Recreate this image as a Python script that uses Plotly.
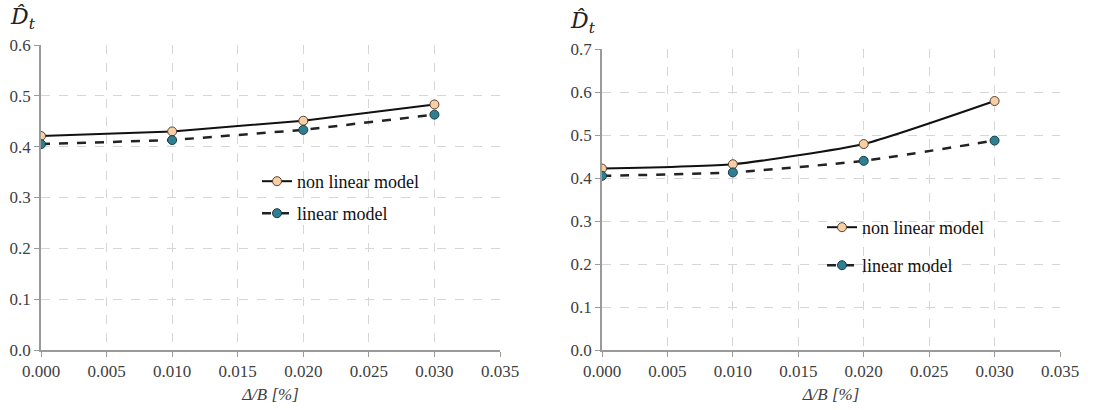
import plotly.graph_objects as go

x_vals = [0.000, 0.010, 0.020, 0.030]
left_nonlinear = [0.421, 0.430, 0.451, 0.483]
left_linear = [0.405, 0.413, 0.433, 0.463]
right_nonlinear = [0.422, 0.432, 0.479, 0.579]
right_linear = [0.405, 0.413, 0.440, 0.487]

x_ticks = [0.000, 0.005, 0.010, 0.015, 0.020, 0.025, 0.030, 0.035]
x_ticklabels = ["0.000", "0.005", "0.010", "0.015", "0.020", "0.025", "0.030", "0.035"]
series_names = ["non linear model", "linear model"]

W, H = 1114, 410
FONT = "Liberation Serif"
PEACH = "#F6CFA6"
TEAL = "#2F7F93"

fig = go.Figure()

def add_panel(xa, ya, nonlin, lin, legs, shape):
    fig.add_trace(go.Scatter(
        x=x_vals, y=nonlin, name=series_names[0], mode="lines+markers",
        line=dict(color="#111111", width=2, shape=shape, smoothing=0.5),
        marker=dict(size=9, color=PEACH, line=dict(color="#5a4030", width=1)),
        xaxis=xa, yaxis=ya, legend=legs[0], showlegend=True))
    fig.add_trace(go.Scatter(
        x=x_vals, y=lin, name=series_names[1], mode="lines+markers",
        line=dict(color="#222222", width=2.5, dash="dash", shape=shape, smoothing=0.5),
        marker=dict(size=9, color=TEAL, line=dict(color="#1e3a44", width=1)),
        xaxis=xa, yaxis=ya, legend=legs[1], showlegend=True))

add_panel("x", "y", left_nonlinear, left_linear, ["legend", "legend2"], "linear")
add_panel("x2", "y2", right_nonlinear, right_linear, ["legend3", "legend4"], "spline")

def xaxis(domain, anchor):
    return dict(domain=domain, anchor=anchor, range=[0, 0.035], automargin=False,
                tickvals=x_ticks, ticktext=x_ticklabels,
                showgrid=True, gridcolor="#d6d6d6", griddash="dash", gridwidth=1,
                showline=True, linecolor="#9a9a9a", linewidth=1.5,
                ticks="outside", ticklen=5, tickcolor="#9a9a9a",
                zeroline=False)

def yaxis(domain, anchor, rng, dt):
    return dict(domain=domain, anchor=anchor, range=rng, dtick=dt, tickformat=".1f", automargin=False,
                showgrid=True, gridcolor="#d6d6d6", griddash="dash", gridwidth=1,
                showline=True, linecolor="#9a9a9a", linewidth=1.5,
                ticks="outside", ticklen=5, tickcolor="#9a9a9a",
                zeroline=False)

def leg(xpx, ytop):
    return dict(x=xpx / W, y=1 - ytop / H, xanchor="left", yanchor="top", visible=True,
                bgcolor="rgba(255,255,255,0)", font=dict(family=FONT, size=18, color="#111"),
                itemwidth=30)

fig.update_layout(
    width=W, height=H, margin=dict(l=0, r=0, t=0, b=0), showlegend=True,
    font=dict(family=FONT, size=17, color="#404040"),
    plot_bgcolor="white", paper_bgcolor="white",
    xaxis=xaxis([41 / W, 500 / W], "y"),
    yaxis=yaxis([1 - 350 / H, 1 - 45 / H], "x", [0, 0.6], 0.1),
    xaxis2=xaxis([602 / W, 1060 / W], "y2"),
    yaxis2=yaxis([1 - 350 / H, 1 - 49 / H], "x2", [0, 0.7], 0.1),
    legend=leg(257, 163),
    legend2=leg(257, 195),
    legend3=leg(822, 209),
    legend4=leg(822, 247),
    annotations=[
        dict(text="<i>D̂<sub>t</sub></i>", x=8 / W, y=1 - 2 / H, xref="paper", yref="paper",
             xanchor="left", yanchor="top", showarrow=False,
             font=dict(family="DejaVu Serif", size=22, color="#222")),
        dict(text="<i>D̂<sub>t</sub></i>", x=568 / W, y=1 - 6 / H, xref="paper", yref="paper",
             xanchor="left", yanchor="top", showarrow=False,
             font=dict(family="DejaVu Serif", size=22, color="#222")),
    ],
)
fig.update_xaxes(tickfont=dict(family=FONT, size=17, color="#404040"),
                 title=dict(text="<i>Δ/B [%]</i>", font=dict(family=FONT, size=17, color="#404040"), standoff=8))
fig.update_yaxes(tickfont=dict(family=FONT, size=17, color="#404040"))

fig.write_html("out.html")
